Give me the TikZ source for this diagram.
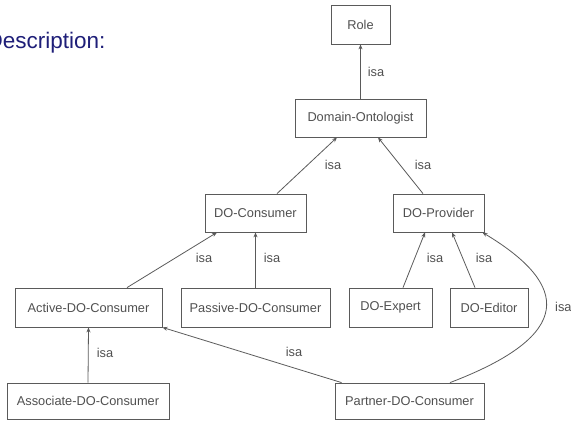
\documentclass[tikz,border=0pt]{standalone}
\usepackage{fontspec}
\setmainfont{Liberation Sans}
\usetikzlibrary{arrows.meta}
\definecolor{navy}{HTML}{1E1E78}
\definecolor{inkgray}{HTML}{505050}
\definecolor{linegray}{HTML}{5A5A5A}
\begin{document}
\begin{tikzpicture}[x=1pt,y=-1pt,
  concept/.style={draw=linegray, line width=0.8pt, fill=white, inner sep=0pt,
    minimum height=38pt, text=inkgray, font=\fontsize{12.8}{15}\selectfont},
  isalink/.style={draw=linegray, line width=0.8pt, -{Stealth[length=5pt,width=4pt]}},
  isatext/.style={text=inkgray, font=\fontsize{12.8}{15}\selectfont, inner sep=0pt}]
\useasboundingbox (0,0) rectangle (571,421);

% heading
\node[anchor=base west, inner sep=0pt, text=navy, font=\fontsize{22.5}{27}\selectfont]
  (heading) at (-13.5,48) {Description:};

% concepts
\node[concept, minimum width=59pt, minimum height=39pt] (role) at (360.5,24.5) {Role};
\node[concept, minimum width=131pt] (domain) at (360.5,118) {Domain-Ontologist};
\node[concept, minimum width=101pt] (consumer) at (255.5,213) {DO-Consumer};
\node[concept, minimum width=91pt] (provider) at (438.5,213) {DO-Provider};
\node[concept, minimum width=147pt, minimum height=39pt] (active) at (88.5,307.5) {Active-DO-Consumer};
\node[concept, minimum width=149pt, minimum height=39pt] (passive) at (255.5,307.5) {Passive-DO-Consumer};
\node[concept, minimum width=83pt, minimum height=39pt] (expert) at (390.5,307.5) {DO-Expert};
\node[concept, minimum width=78pt, minimum height=39pt] (editor) at (489,307.5) {DO-Editor};
\node[concept, minimum width=162pt, minimum height=36pt] (associate) at (88,401) {Associate-DO-Consumer};
\node[concept, minimum width=149pt, minimum height=36pt] (partner) at (409.5,401) {Partner-DO-Consumer};

% isa links, child to parent
\draw[isalink] (domain.north) -- (role.south);
\draw[isalink] ([xshift=21.5pt]consumer.north) -- ([xshift=-23.5pt]domain.south);
\draw[isalink] ([xshift=-15.5pt]provider.north) -- ([xshift=17.5pt]domain.south);
\draw[isalink] ([xshift=38.5pt]active.north) -- ([xshift=-38.5pt]consumer.south);
\draw[isalink] (passive.north) -- (consumer.south);
\draw[isalink] ([xshift=12.5pt]expert.north) -- ([xshift=-13.5pt]provider.south);
\draw[isalink] ([xshift=-14pt]editor.north) -- ([xshift=13.5pt]provider.south);
\draw[isalink] (associate.north) -- (active.south);
\draw[isalink] ([xshift=7pt]partner.north west) -- (active.south east);
\draw[isalink] ([xshift=40.5pt]partner.north)
  .. controls (575,335) and (570,285) .. ([xshift=-2pt]provider.south east);

% link labels
\node[isatext] (l1) at (376,72) {isa};
\node[isatext] (l2) at (333,165) {isa};
\node[isatext] (l3) at (423,165) {isa};
\node[isatext] (l4) at (204,258) {isa};
\node[isatext] (l5) at (272,258) {isa};
\node[isatext] (l6) at (435,258) {isa};
\node[isatext] (l7) at (484,258) {isa};
\node[isatext] (l8) at (105,353) {isa};
\node[isatext] (l9) at (294,352) {isa};
\node[isatext, anchor=west] (l10) at (555,307) {isa};
\end{tikzpicture}
\end{document}
